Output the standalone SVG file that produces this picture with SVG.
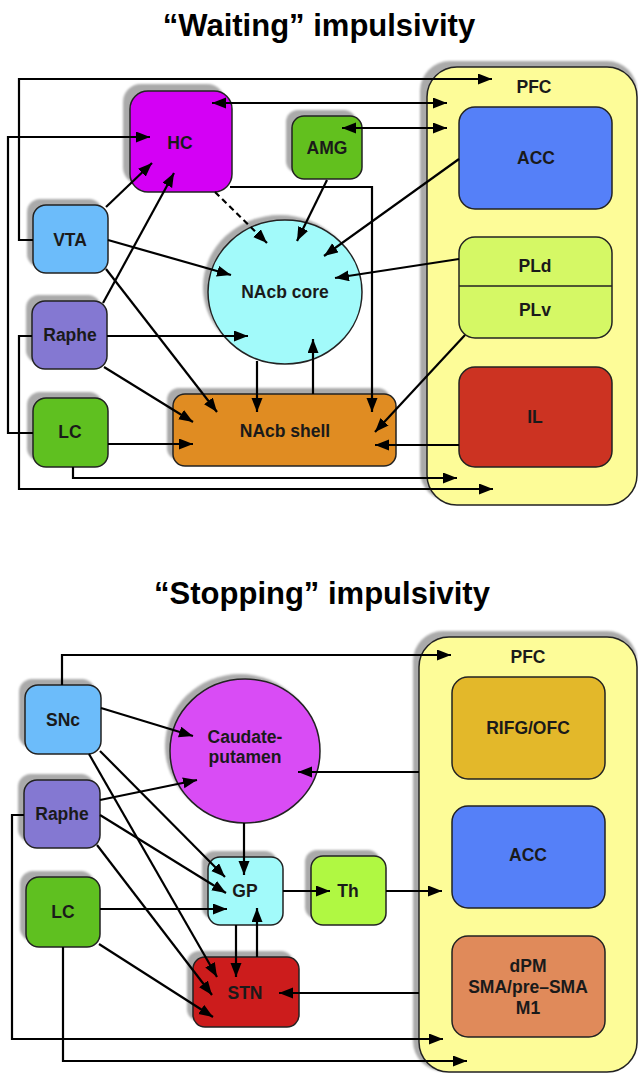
<svg xmlns="http://www.w3.org/2000/svg" width="638" height="1074" viewBox="0 0 638 1074">
<style>
text{font-family:"Liberation Sans",Arial,sans-serif;font-weight:bold;fill:#1a1a1a;text-anchor:middle}
.lbl{font-size:17.5px}
.title{font-size:31px;fill:#000}
.nd{stroke:#222;stroke-width:1.5}
.sh{fill:#aaaaaa;filter:url(#blur)}
.c{fill:none;stroke:#000;stroke-width:2.2}
.a{marker-end:url(#ah)}
.b{marker-start:url(#ah);marker-end:url(#ah)}
.d{stroke-dasharray:6 4}
</style>
<defs>
<filter id="blur" x="-10%" y="-10%" width="120%" height="120%"><feGaussianBlur stdDeviation="1.2"/></filter>
<marker id="ah" markerUnits="userSpaceOnUse" markerWidth="15" markerHeight="12" refX="14" refY="5.5" orient="auto-start-reverse">
<path d="M0,0 L14,5.5 L0,11 Z" fill="#000"/>
</marker>
</defs>
<rect width="638" height="1074" fill="#fff"/>

<text class="title" x="319" y="36">“Waiting” impulsivity</text>
<text class="title" x="322" y="604">“Stopping” impulsivity</text>

<!-- ===== TOP DIAGRAM ===== -->
<g id="pfc1">
<rect class="sh" x="420" y="61" width="217" height="440" rx="30"/>
<rect class="nd" x="427" y="67" width="210" height="438" rx="30" fill="#fdfc98"/>
<text class="lbl" x="534" y="93">PFC</text>
</g>
<g id="acc1">
<rect class="nd" x="459" y="107" width="153" height="102" rx="16" fill="#5580f8"/>
<text class="lbl" x="536" y="164">ACC</text>
</g>
<g id="pl">
<rect class="nd" x="459" y="237" width="153" height="101" rx="16" fill="#d5f865"/>
<line x1="459" y1="286" x2="612" y2="286" stroke="#222" stroke-width="1.5"/>
<text class="lbl" x="535" y="272">PLd</text>
<text class="lbl" x="535" y="316">PLv</text>
</g>
<g id="il">
<rect class="nd" x="459" y="367" width="153" height="100" rx="16" fill="#cc3322"/>
<text class="lbl" x="535" y="423">IL</text>
</g>
<g id="hc">
<rect class="sh" x="123" y="84" width="102" height="101" rx="18"/>
<rect class="nd" x="130" y="91" width="102" height="101" rx="18" fill="#d400f5"/>
<text class="lbl" x="180" y="149">HC</text>
</g>
<g id="amg">
<rect class="sh" x="286" y="110" width="70" height="63" rx="12"/>
<rect class="nd" x="292" y="116" width="70" height="63" rx="12" fill="#62c01e"/>
<text class="lbl" x="327" y="154">AMG</text>
</g>
<g id="vta">
<rect class="sh" x="27" y="199" width="75" height="68" rx="13"/>
<rect class="nd" x="33" y="205" width="75" height="68" rx="13" fill="#6cbcfa"/>
<text class="lbl" x="70" y="246">VTA</text>
</g>
<g id="core">
<ellipse class="sh" cx="280" cy="287" rx="77" ry="72"/>
<ellipse class="nd" cx="285" cy="292" rx="77" ry="72" fill="#a2fafa"/>
<text class="lbl" x="285" y="298">NAcb core</text>
</g>
<g id="raphe1">
<rect class="sh" x="26" y="295" width="75" height="68" rx="13"/>
<rect class="nd" x="32" y="301" width="75" height="68" rx="13" fill="#8478d2"/>
<text class="lbl" x="70" y="341">Raphe</text>
</g>
<g id="lc1">
<rect class="sh" x="27" y="392" width="75" height="69" rx="13"/>
<rect class="nd" x="33" y="398" width="75" height="69" rx="13" fill="#5fc020"/>
<text class="lbl" x="70" y="438">LC</text>
</g>
<g id="shell">
<rect class="sh" x="167" y="388" width="223" height="72" rx="12"/>
<rect class="nd" x="173" y="394" width="223" height="72" rx="12" fill="#e08c22"/>
<text class="lbl" x="285" y="437">NAcb shell</text>
</g>

<g id="connectors1">
<path class="c a" d="M33,240 H19 V79 H492"/>
<path class="c b" d="M212,103 H447"/>
<path class="c b" d="M342,128 H447"/>
<path class="c a" d="M230,187 H372 V412"/>
<path class="c a" d="M33,433 H8 V137 H150"/>
<path class="c a" d="M32,336 H19 V489 H493"/>
<path class="c a" d="M73,467 V478 H457"/>
<path class="c a" d="M106,207 L152,163"/>
<path class="c a" d="M103,303 L174,173"/>
<path class="c a" d="M108,240 L231,275"/>
<path class="c a" d="M106,269 L217,412"/>
<path class="c a" d="M107,336 H248"/>
<path class="c a" d="M104,367 L193,422"/>
<path class="c a" d="M108,444 H193"/>
<path class="c a d" d="M215,192 L267,243"/>
<path class="c a" d="M327,180 L297,241"/>
<path class="c a" d="M459,159 L324,256"/>
<path class="c a" d="M459,259 L335,278"/>
<path class="c a" d="M257,361 V412"/>
<path class="c a" d="M313,394 V339"/>
<path class="c a" d="M465,335 L375,432"/>
<path class="c a" d="M459,445 H375"/>
</g>

<!-- ===== BOTTOM DIAGRAM ===== -->
<g id="pfc2">
<rect class="sh" x="413" y="631" width="224" height="440" rx="30"/>
<rect class="nd" x="419" y="637" width="218" height="435" rx="30" fill="#fdfc98"/>
<text class="lbl" x="528" y="663">PFC</text>
</g>
<g id="rifg">
<rect class="nd" x="452" y="677" width="153" height="102" rx="16" fill="#e3b82a"/>
<text class="lbl" x="528" y="734">RIFG/OFC</text>
</g>
<g id="acc2">
<rect class="nd" x="452" y="806" width="153" height="102" rx="16" fill="#5580f8"/>
<text class="lbl" x="528" y="861">ACC</text>
</g>
<g id="dpm">
<rect class="nd" x="452" y="936" width="153" height="101" rx="16" fill="#e08a5a"/>
<text class="lbl" x="528" y="972">dPM</text>
<text class="lbl" x="528" y="993">SMA/pre–SMA</text>
<text class="lbl" x="528" y="1014">M1</text>
</g>
<g id="snc">
<rect class="sh" x="19" y="679" width="76" height="69" rx="13"/>
<rect class="nd" x="25" y="685" width="76" height="69" rx="13" fill="#6cbcfa"/>
<text class="lbl" x="63" y="726">SNc</text>
</g>
<g id="raphe2">
<rect class="sh" x="18" y="774" width="76" height="68" rx="13"/>
<rect class="nd" x="24" y="780" width="76" height="68" rx="13" fill="#8478d2"/>
<text class="lbl" x="62" y="820">Raphe</text>
</g>
<g id="lc2">
<rect class="sh" x="20" y="871" width="74" height="70" rx="13"/>
<rect class="nd" x="26" y="877" width="74" height="70" rx="13" fill="#5fc020"/>
<text class="lbl" x="63" y="918">LC</text>
</g>
<g id="caudate">
<ellipse class="sh" cx="240" cy="746" rx="75" ry="72"/>
<ellipse class="nd" cx="245" cy="751" rx="75" ry="72" fill="#d94cf5"/>
<text class="lbl" x="245" y="743">Caudate-</text>
<text class="lbl" x="245" y="763">putamen</text>
</g>
<g id="gp">
<rect class="sh" x="202" y="851" width="75" height="68" rx="12"/>
<rect class="nd" x="208" y="857" width="75" height="68" rx="12" fill="#a2fafa"/>
<text class="lbl" x="245" y="897">GP</text>
</g>
<g id="th">
<rect class="sh" x="305" y="850" width="75" height="69" rx="12"/>
<rect class="nd" x="311" y="856" width="75" height="69" rx="12" fill="#b0f842"/>
<text class="lbl" x="348" y="897">Th</text>
</g>
<g id="stn">
<rect class="sh" x="187" y="951" width="106" height="70" rx="12"/>
<rect class="nd" x="193" y="957" width="106" height="70" rx="12" fill="#cc1c1c"/>
<text class="lbl" x="245" y="999">STN</text>
</g>

<g id="connectors2">
<path class="c a" d="M62,685 V655 H451"/>
<path class="c a" d="M101,708 L193,736"/>
<path class="c a" d="M100,800 L197,780"/>
<path class="c a" d="M419,772 H298"/>
<path class="c a" d="M244,823 V875"/>
<path class="c a" d="M283,891 H330"/>
<path class="c a" d="M386,891 H442"/>
<path class="c a" d="M236,925 V977"/>
<path class="c a" d="M257,957 V908"/>
<path class="c a" d="M419,993 H279"/>
<path class="c a" d="M100,909 H227"/>
<path class="c a" d="M99,944 L213,1017"/>
<path class="c a" d="M100,751 L225,877"/>
<path class="c a" d="M89,754 L217,977"/>
<path class="c a" d="M100,815 L226,893"/>
<path class="c a" d="M97,845 L212,995"/>
<path class="c a" d="M24,815 H12 V1039 H443"/>
<path class="c a" d="M63,947 V1061 H467"/>
</g>
</svg>
